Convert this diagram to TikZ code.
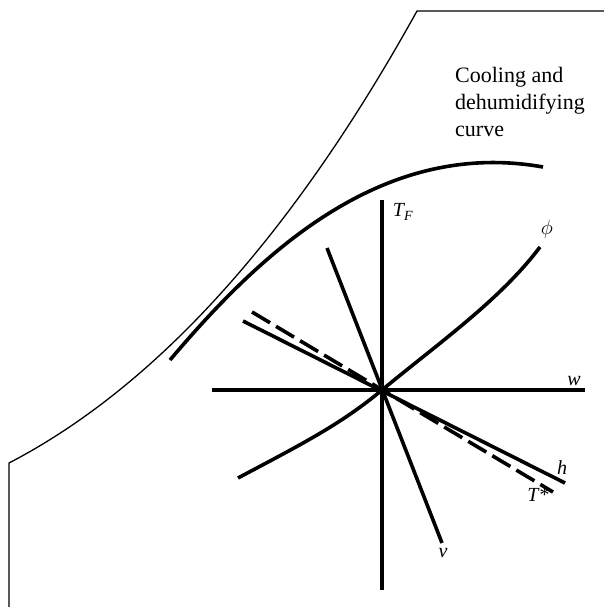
\documentclass[tikz,border=0pt]{standalone}
\usepackage{fontspec}
\setmainfont{Liberation Serif}
\usepackage{tikz}
\usetikzlibrary{positioning}

\begin{document}
\begin{tikzpicture}[x=1pt, y=-1pt,
    axis/.style={line width=3.6pt},
    satline/.style={line width=1.3pt},
    dashaxis/.style={line width=3.6pt, dash pattern=on 21pt off 7pt},
    lbl/.style={font=\fontsize{20}{24}\selectfont\itshape, inner sep=1pt},
    txt/.style={font=\fontsize{22}{27}\selectfont, align=left, inner sep=0pt}
  ]
    \useasboundingbox (0,0) rectangle (604,607);
    % saturation boundary
    \coordinate (s0) at (9,607);
    \coordinate (s1) at (9,463);
    \coordinate (s2) at (417,11);
    \coordinate (s3) at (604,11);
    \draw[satline] (s0) -- (s1) .. controls (186,371) and (320,186) .. (s2) -- (s3);
    % cooling and dehumidifying curve
    \coordinate (c0) at (170,360);
    \coordinate (c1) at (543,167);
    \draw[axis] (c0) .. controls (258,256) and (380,138) .. (c1);
    \node[txt, anchor=north west] (cool) at (455,67) {Cooling and\\dehumidifying\\curve};
    % state point and property lines
    \coordinate (o) at (382,390);
    \coordinate (tftop) at (382,200);
    \coordinate (tfbot) at (382,590);
    \coordinate (wl) at (212,390);
    \coordinate (wr) at (585,390);
    \coordinate (hl) at (243,321);
    \coordinate (hr) at (565,483);
    \coordinate (tsl) at (252,312);
    \coordinate (tsr) at (553,492);
    \coordinate (vt) at (327,248);
    \coordinate (vb) at (442,543);
    \coordinate (phil) at (238,478);
    \coordinate (phir) at (540,247);
    \draw[axis] (tftop) -- (tfbot);
    \draw[axis] (wl) -- (wr);
    \draw[axis] (hl) -- (hr);
    \draw[dashaxis] (tsl) -- (tsr);
    \draw[axis] (vt) -- (vb);
    \draw[axis] (phil) .. controls (300,445) and (340,425) .. (o)
                       .. controls (440,342) and (500,300) .. (phir);
    % labels
    \node[lbl] (tflbl) at (403,212) {T\textsubscript{F}};
    \node[lbl] (philbl) at (547,229) {$\phi$};
    \node[lbl] (wlbl) at (574,381) {w};
    \node[lbl] (hlbl) at (562,468) {h};
    \node[lbl] (tslbl) at (538,495) {T*};
    \node[lbl] (vlbl) at (443,553) {v};
\end{tikzpicture}
\end{document}
